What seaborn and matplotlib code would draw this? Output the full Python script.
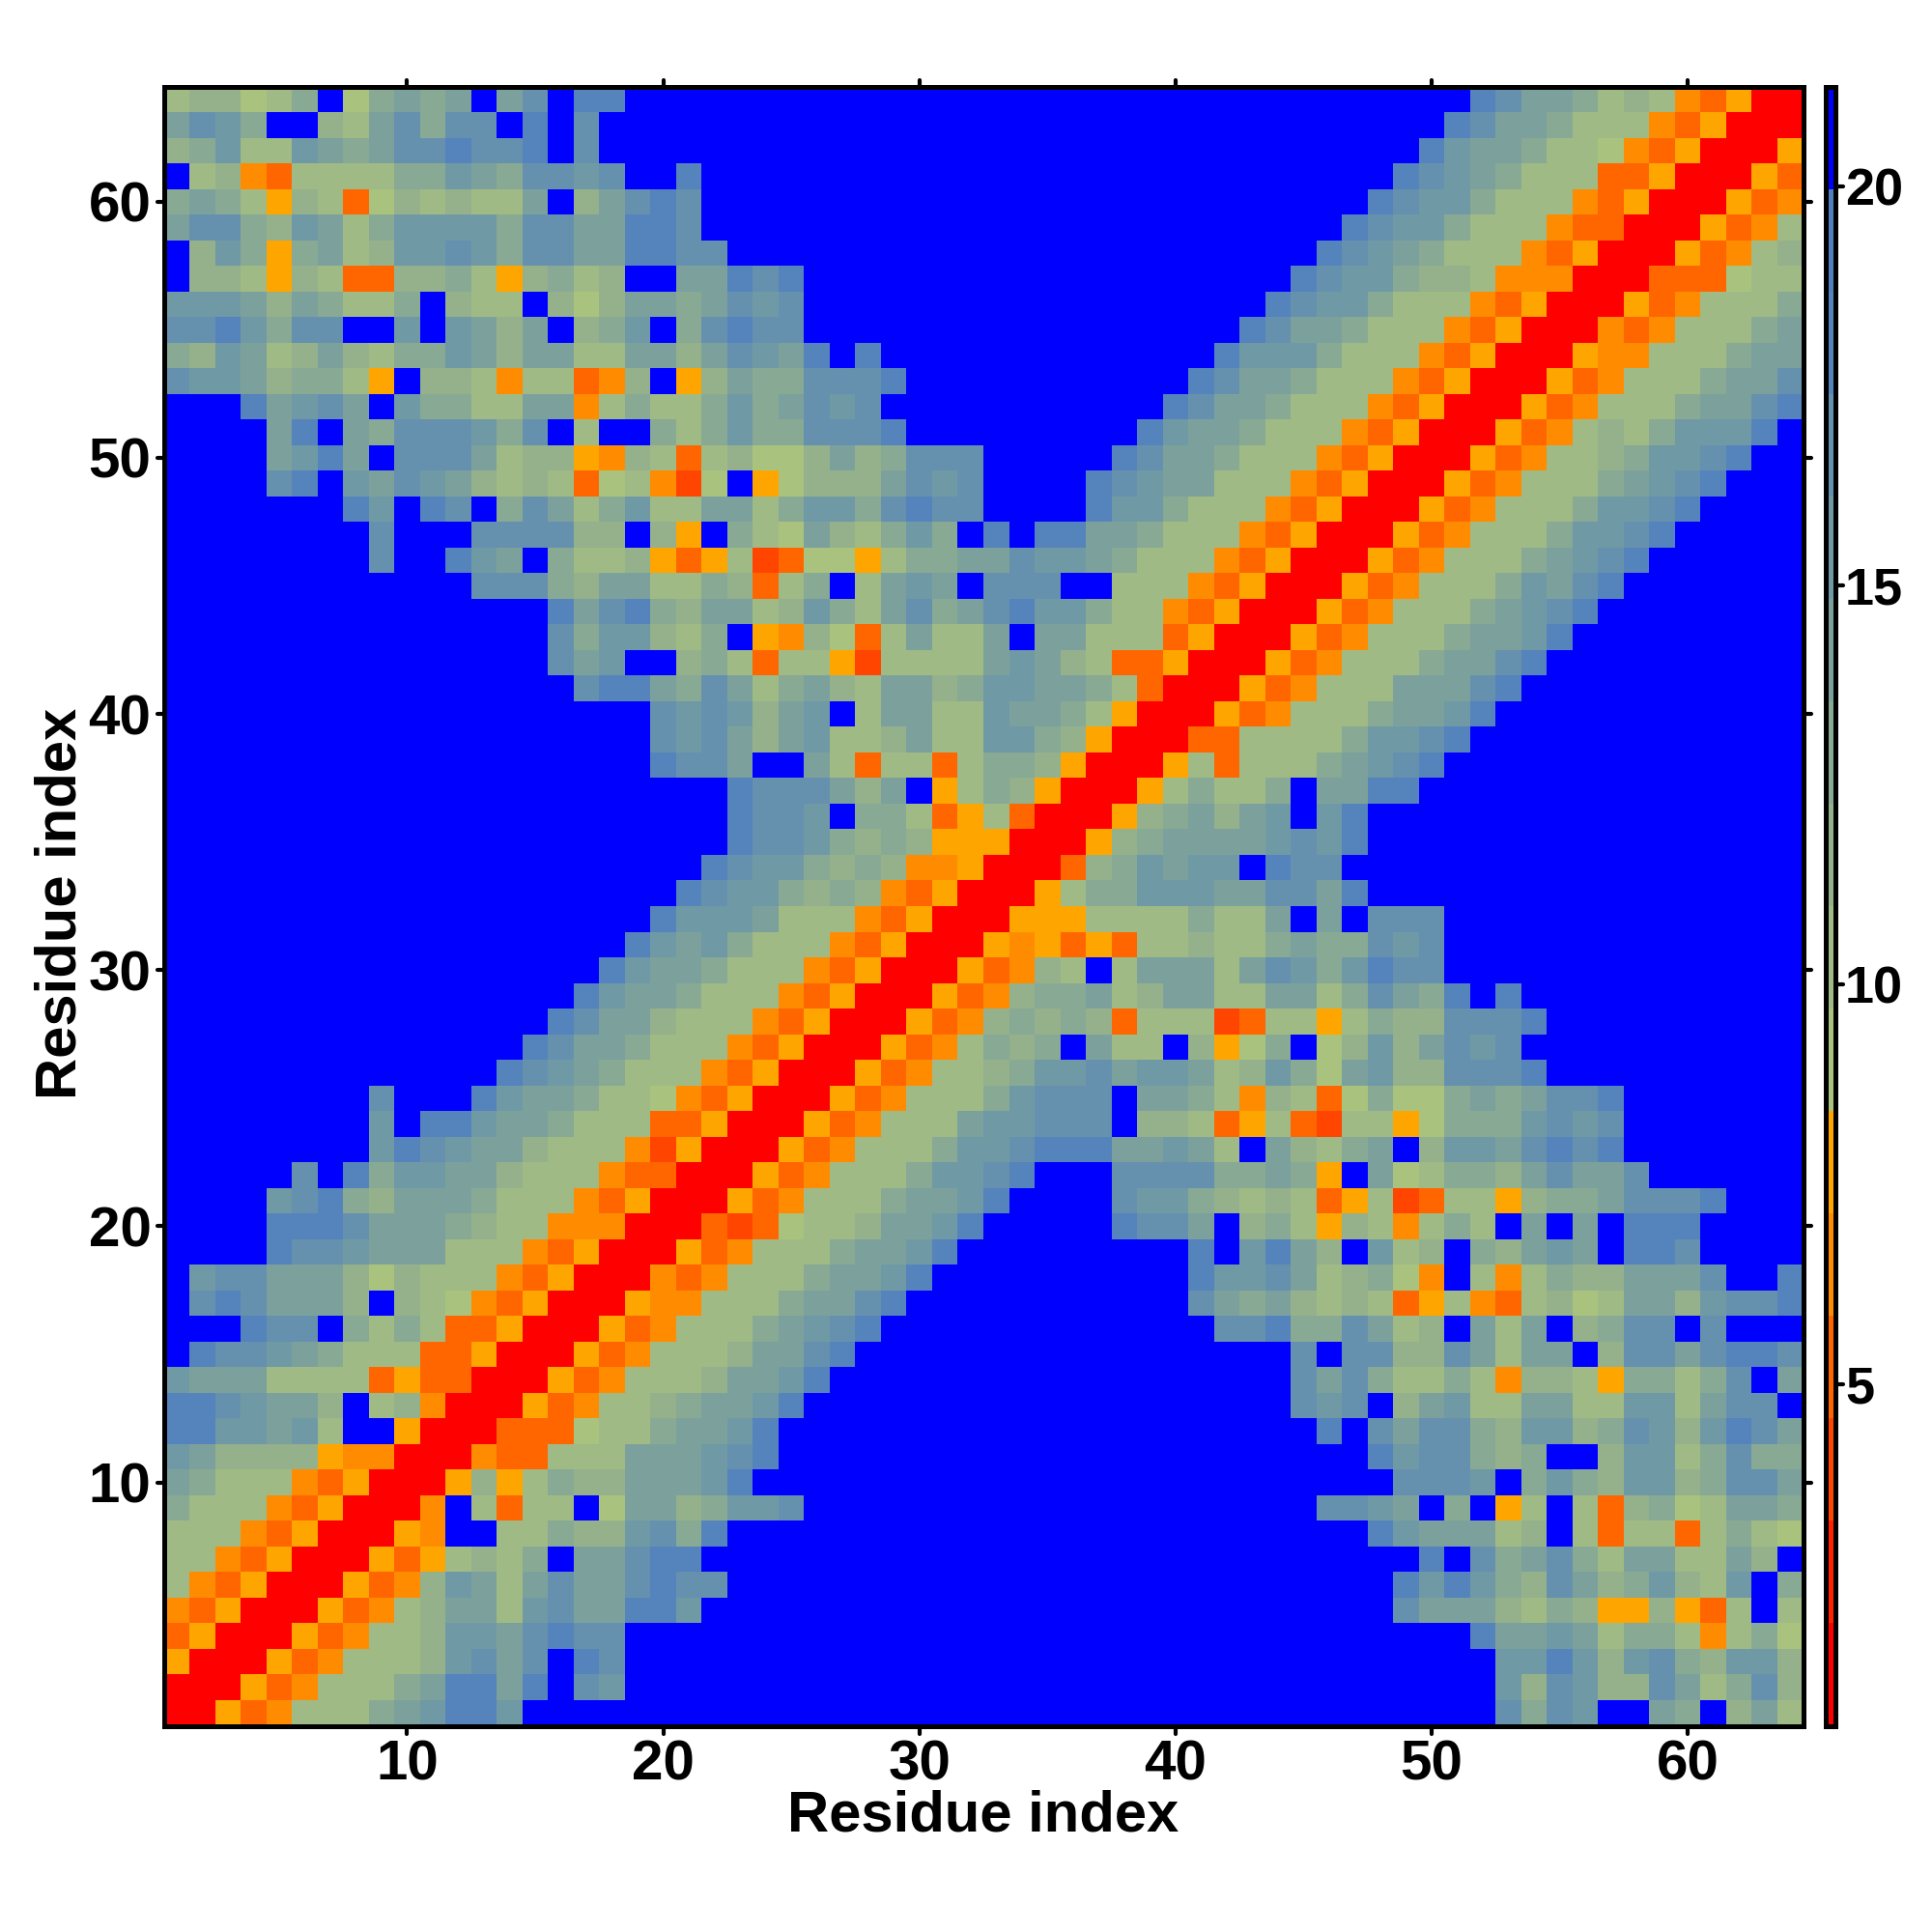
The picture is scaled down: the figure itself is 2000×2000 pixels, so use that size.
import numpy as np
import pandas as pd
import seaborn as sns
import matplotlib
matplotlib.use('Agg')
import matplotlib.pyplot as plt
from matplotlib.colors import ListedColormap
from matplotlib.markers import MarkerStyle, TICKLEFT, TICKRIGHT, TICKUP, TICKDOWN

sns.set_style('ticks')
plt.rcParams['font.family'] = ['Liberation Sans', 'DejaVu Sans']
plt.rcParams['font.weight'] = 'bold'
plt.rcParams['text.color'] = 'black'
plt.rcParams['axes.labelcolor'] = 'black'
plt.rcParams['xtick.labelcolor'] = 'black'
plt.rcParams['ytick.labelcolor'] = 'black'

# one colour band per distance level, 0 = red (close) ... f = blue (far)
band_colors = ['#ff0000', '#ff2200', '#ff4500', '#ff6600', '#ff8c00', '#ffa500',
               '#a9c37f', '#a0ba85', '#94b18c', '#88a994', '#7ca19d', '#7099a6',
               '#6691ae', '#5583bb', '#4f7fbc', '#0000ff']
band_values = [1.36, 2.64, 3.93, 5.21, 6.49, 7.78, 9.06, 10.34, 11.63, 12.91,
               14.19, 15.47, 16.76, 18.04, 19.33, 20.61]
value_min = 0.72
value_max = 21.25

residue_count = 64
tick_residues = [10, 20, 30, 40, 50, 60]
cbar_ticks = [5, 10, 15, 20]

# the map is symmetric: rows below run from residue 64 down to 1, each read up to the diagonal
f = 'f'
triangle_rows = [
    '788679f69a9afacfddfff' + f*22 + f*8 + 'dcaa978743500',
    'acb9ff87ac9ccfdfcffff' + f*22 + f*7 + 'dcaa977743500',
    '89b77ba9accdccdfcffff' + f*22 + f*6 + 'dbaa977643500',
    'f7843777799ba9ccbcffd' + f*22 + f*5 + 'dcba977733500',
    '9a975873687877af8acdc' + f*22 + f*4 + 'dcbb977743500',
    'acc98ba79bbbb9ccaaddc' + f*22 + f*3 + 'dcbb977743300',
    'f8b959a78bbcb9ccaaddc' + 'c' + f*21 + 'ffdcba977743500',
    'f88758733889758978ffa' + 'adcd' + f*18 + 'fdcbb988744400',
    'bbba8a9779f877f868aa9' + 'acbc' + f*18 + 'dcbb977743500',
    'ccdb9ccffbfba8af89bf9' + 'cdcc' + f*17 + 'd' + 'caa977743500',
    '98ba78a8799ba8aa77aa8' + 'acbadfd' + f*13 + 'db' + 'bb977743500',
    'cbba89975f887477348f5' + '8a99cccd' + f*11 + 'dca' + 'a977743500',
    'fffdabcafb9977aa47977' + '9b9acbc' + f*11 + 'dcaa' + '977743500',
    'ffffadfa9cccb9cf7ff97' + '9b99cccd' + f*9 + 'dbaa9' + '77743500',
    'ffffabdafccca78854873' + '78668a89ccc' + f*5 + 'dcaa97' + '7743500',
    'ffffcdfbacba878736742' + '6f56888acbc' + f*4 + 'dcbaa77' + '743500',
    'fffffffdbfdcf9ca79b77' + 'aa79bb9cdcc' + f*4 + 'dbb9777' + '43500',
    'ffffffffcfffcccc88f85' + 'f976a879b9' + 'fdfdd' + 'aa97774' + '3500',
    'ffffffffcffdbaf977853' + '5723665799aacbba977743' + '500',
    f*12 + 'ccc98aa77' + '98379f7abafcccff777435' + '00',
    f*15 + 'dacd98' + 'aa78b97ac9acdbb9774350' + '0',
    f*15 + 'c9bb87' + '9f548637a77afaa7773500',
    f*15 + 'cabff8' + '97377527777aba8733500',
    f*16 + 'cdda9' + 'ca79a87aa89bbaa97300',
    f*19 + 'cb' + 'cb8abf7aa77baa97500',
    f*19 + 'cb' + 'ca8ab778a77bb98500',
    f*19 + 'dc' + 'caffa737737998500',
    f*21 + 'fdccca8af5798500',
    f*21 + 'fdccbf997357300',
    f*21 + 'fdccb989855500',
    f*21 + 'dcbb989844500',
    f*20 + 'd' + 'cbb989843500',
    f*19 + 'db' + 'bba77743500',
    f*18 + 'dba' + 'b977743500',
    f*17 + 'dbaa' + '977743500',
    f*16 + 'dbaa9' + '77743500',
    f*15 + 'dcaa87' + '7743500',
    f*14 + 'dcaa977' + '743500',
    f*13 + 'dcba9777' + '43500',
    'ffffffffcfff' + 'dbaa97764' + '3500',
    'ffffffff' + 'bfddbaa977733' + '500',
    'ffffffff' + 'bdcbaa8777425' + '00',
    'fffff' + 'cfd9bbaa87774330' + '0',
    'ffffbcd98aaa977743500',
    'ffffdddcaaa987744400',
    'ffffdccbaaa77743500',
    'fbccaaa86877743500',
    'fcdcaaa8f87643500',
    'fffdccf979733500',
    'fdccba977733500',
    'baaa7777353300',
    'ddcbaa8f78400',
    'ddbbab7ff500',
    'ba888854400',
    'a977743500',
    '977743500',
    '77743500',
    '7743500',
    '743500',
    '43500',
    '3500',
    '500',
    '00',
    '0',
]

residues = list(range(1, residue_count + 1))
grid = np.zeros((residue_count, residue_count))
for top_i, row in enumerate(triangle_rows):
    y = residue_count - top_i
    assert len(row) == y, (y, len(row))
    for x, ch in enumerate(row, start=1):
        v = band_values[int(ch, 16)]
        grid[y - 1, x - 1] = v
        grid[x - 1, y - 1] = v

df = pd.DataFrame(grid[::-1], index=residues[::-1], columns=residues)

W = 2000.0
fig = plt.figure(figsize=(10, 10), dpi=200)
ax = fig.add_axes([169.5 / W, 1 - 1786.5 / W, 1697 / W, 1697 / W])
cax = fig.add_axes([1889.5 / W, 1 - 1786.5 / W, 11 / W, 1697 / W])

sns.heatmap(df, cmap=ListedColormap(band_colors), vmin=value_min, vmax=value_max,
            ax=ax, cbar_ax=cax, xticklabels=False, yticklabels=False)

ax.set_xticks([r - 0.5 for r in tick_residues], labels=tick_residues)
ax.set_yticks([residue_count - r + 0.5 for r in tick_residues], labels=tick_residues)
ax.tick_params(axis='both', which='major', direction='out', length=2.7, width=1.5,
               top=True, right=True, bottom=True, left=True, color='black',
               labelsize=21, labelrotation=0, labelcolor='black')
ax.tick_params(axis='x', pad=2.4)
ax.tick_params(axis='y', pad=2.0)
for lab in ax.get_xticklabels() + ax.get_yticklabels():
    lab.set_fontweight('bold')

for sp in ax.spines.values():
    sp.set_visible(True)
    sp.set_linewidth(1.8)
    sp.set_color('black')

ax.set_xlabel('Residue index', fontsize=21.5, fontweight='bold', va='center', color='black')
ax.set_ylabel('Residue index', fontsize=21.5, fontweight='bold', va='center', color='black')
ax.xaxis.set_label_coords(0.5, -0.0549)
ax.yaxis.set_label_coords(-0.0625, 0.5018)

cbar = ax.collections[0].colorbar
cbar.set_ticks(cbar_ticks)
cbar.ax.tick_params(direction='out', length=2.7, width=1.5, labelsize=19.5, pad=0.7,
                    color='black', labelcolor='black')
for lab in cbar.ax.get_yticklabels():
    lab.set_fontweight('bold')
cbar.outline.set_visible(True)
cbar.outline.set_linewidth(1.8)
cbar.outline.set_edgecolor('black')

# small rounded tick stubs
for axis, m1, m2 in [(ax.xaxis, TICKDOWN, TICKUP), (ax.yaxis, TICKLEFT, TICKRIGHT),
                     (cbar.ax.yaxis, TICKLEFT, TICKRIGHT)]:
    for tick in axis.get_major_ticks():
        tick.tick1line.set_marker(MarkerStyle(m1, capstyle='round'))
        tick.tick2line.set_marker(MarkerStyle(m2, capstyle='round'))

fig.savefig('out.png', dpi=200, facecolor='white')
